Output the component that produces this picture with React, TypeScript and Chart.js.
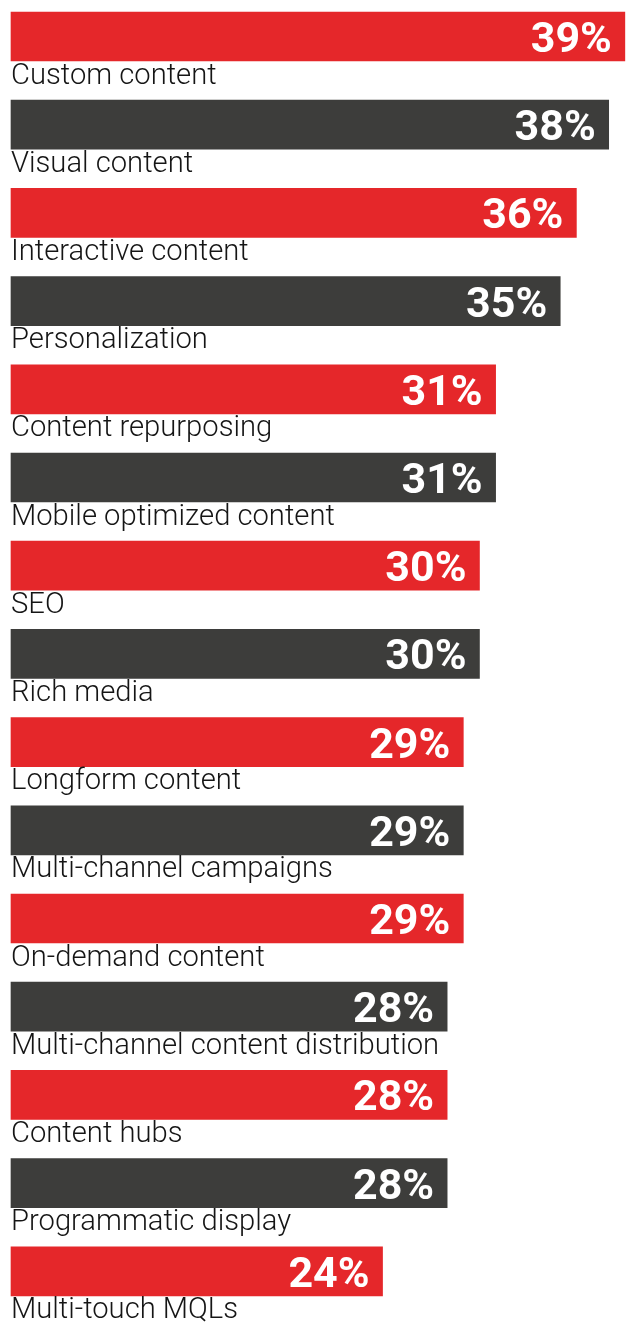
import React, { useEffect, useRef } from "react";
import { Chart, registerables } from "chart.js";

Chart.register(...registerables);

const categories: string[] = [
  "Custom content",
  "Visual content",
  "Interactive content",
  "Personalization",
  "Content repurposing",
  "Mobile optimized content",
  "SEO",
  "Rich media",
  "Longform content",
  "Multi-channel campaigns",
  "On-demand content",
  "Multi-channel content distribution",
  "Content hubs",
  "Programmatic display",
  "Multi-touch MQLs",
];

const values: number[] = [39, 38, 36, 35, 31, 31, 30, 30, 29, 29, 29, 28, 28, 28, 24];

const RED = "#e5272a";
const DARK = "#3d3d3b";

const labelPlugin = {
  id: "barLabels",
  afterDatasetsDraw(chart: any) {
    const ctx = chart.ctx;
    const meta = chart.getDatasetMeta(0);
    ctx.save();
    meta.data.forEach((bar: any, i: number) => {
      const props = bar.getProps(["x", "y", "base", "height"], true);
      const half = props.height / 2;
      // value inside bar end
      ctx.font = "bold 43px Roboto";
      ctx.fillStyle = "#ffffff";
      ctx.textAlign = "right";
      ctx.textBaseline = "alphabetic";
      const xr = Math.min(props.x - 13, chart.width - 4);
      ctx.fillText(values[i] + "%", xr, props.y + 15.5);
      // category label below
      ctx.font = "300 29.2px Roboto";
      ctx.fillStyle = "#151515";
      ctx.textAlign = "left";
      ctx.fillText(categories[i], chart.chartArea.left, props.y + half + 22.5);
    });
    ctx.restore();
  },
};

export default function App() {
  const ref = useRef<HTMLCanvasElement | null>(null);
  useEffect(() => {
    document.body.style.margin = "0";
    const canvas = ref.current!;
    const chart = new Chart(canvas, {
      type: "bar",
      data: {
        labels: categories,
        datasets: [
          {
            data: values,
            base: 1,
            backgroundColor: values.map((_, i) => (i % 2 === 0 ? RED : DARK)),
            borderWidth: 0,
            barThickness: 49,
            clip: false as any,
          } as any,
        ],
      },
      options: {
        indexAxis: "y",
        animation: false,
        responsive: false,
        maintainAspectRatio: false,
        layout: { padding: { left: 11, right: 0, top: 36.5, bottom: 54.7 } },
        plugins: { legend: { display: false }, tooltip: { enabled: false } },
        scales: {
          x: { display: false, min: 1, max: 40 },
          y: { display: false, offset: false, grid: { display: false } },
        },
      },
      plugins: [labelPlugin],
    });
    return () => chart.destroy();
  }, []);
  return (
    <div style={{ width: 641, height: 1326 }}>
      <canvas ref={ref} width={641} height={1326} style={{ display: "block" }} />
    </div>
  );
}
